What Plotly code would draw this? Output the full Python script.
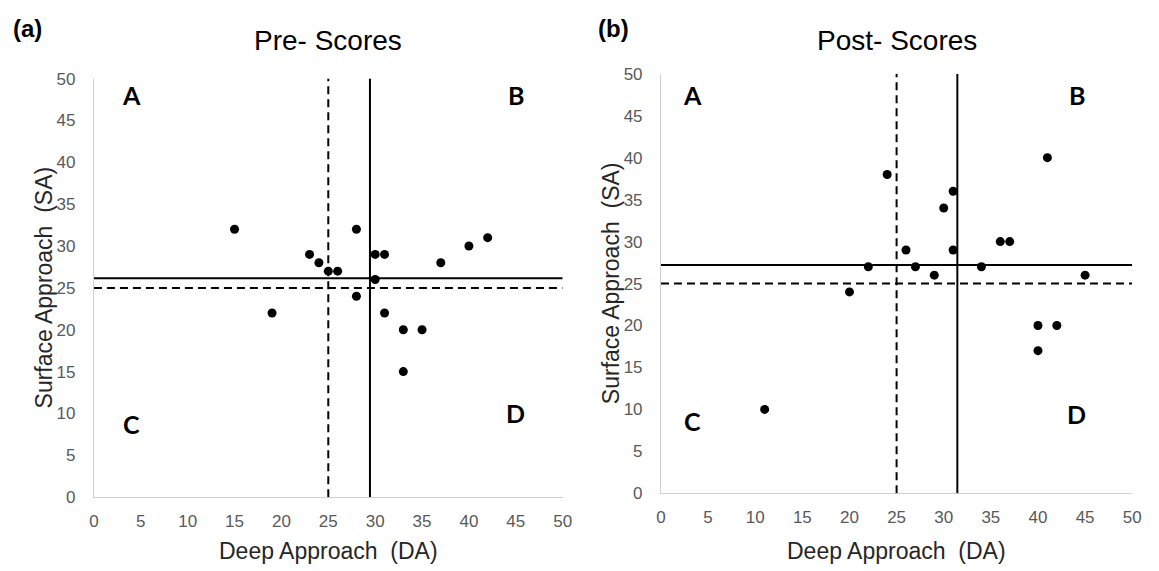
import numpy as np
import plotly.graph_objects as go

# ---------------- data ----------------
pre_da = [15, 28, 23, 24, 25, 26, 30, 31, 30, 37, 40, 42, 28, 19, 31, 33, 35, 33]
pre_sa = [32, 32, 29, 28, 27, 27, 29, 29, 26, 28, 30, 31, 24, 22, 22, 20, 20, 15]

post_da = [24, 31, 30, 41, 26, 31, 36, 37, 22, 27, 34, 29, 45, 20, 40, 42, 40, 11]
post_sa = [38, 36, 34, 40, 29, 29, 30, 30, 27, 27, 27, 26, 26, 24, 20, 20, 17, 10]

cutoff_da = 25          # dashed reference lines
cutoff_sa = 25
axis_min, axis_max = 0, 50
tick_vals = list(range(0, 51, 5))

panel_titles = ["Pre- Scores", "Post- Scores"]
panel_tags = ["(a)", "(b)"]
x_title = "Deep Approach\u00a0 (DA)"
y_title = "Surface Approach\u00a0 (SA)"
quadrants = ["A", "B", "C", "D"]

W, H = 1159, 571
# plot-area pixel boxes (left, right, top, bottom)
boxes = [(90, 564.5, 72, 505), (664, 1141, 67, 501)]

fig = go.Figure()
shapes = []
annotations = []

tick_font = dict(family="Liberation Sans, Arial", size=17, color="#595959")
title_font = dict(family="Liberation Sans, Arial", size=23, color="#262626")

datasets = [(pre_da, pre_sa), (post_da, post_sa)]
quad_pos = [
    [(4.0, 48.0), (45.0, 48.0), (4.0, 8.8), (45.0, 10.0)],
    [(3.3, 47.5), (44.1, 47.5), (3.3, 8.6), (44.1, 9.5)],
]

for i, ((da, sa), (l, r, t, b)) in enumerate(zip(datasets, boxes)):
    xa = "x" if i == 0 else "x2"
    ya = "y" if i == 0 else "y2"
    fig.add_trace(go.Scatter(
        x=da, y=sa, mode="markers", xaxis=xa, yaxis=ya,
        marker=dict(color="black", size=9, line=dict(width=0)),
        showlegend=False, hoverinfo="x+y"))

    mean_da = float(np.mean(da))
    mean_sa = float(np.mean(sa))
    # mean lines (solid)
    shapes.append(dict(type="line", xref=xa, yref=ya, x0=mean_da, x1=mean_da,
                       y0=axis_min, y1=axis_max, line=dict(color="black", width=2)))
    shapes.append(dict(type="line", xref=xa, yref=ya, x0=axis_min, x1=axis_max,
                       y0=mean_sa, y1=mean_sa, line=dict(color="black", width=2)))
    # cutoff lines (dashed)
    shapes.append(dict(type="line", xref=xa, yref=ya, x0=cutoff_da, x1=cutoff_da,
                       y0=axis_min, y1=axis_max,
                       line=dict(color="black", width=2, dash="8px,5px")))
    shapes.append(dict(type="line", xref=xa, yref=ya, x0=axis_min, x1=axis_max,
                       y0=cutoff_sa, y1=cutoff_sa,
                       line=dict(color="black", width=2, dash="8px,5px")))

    axis_common = dict(range=[axis_min, axis_max], tickvals=tick_vals,
                       showgrid=False, zeroline=False, showline=True,
                       linecolor="#d0d0d0", linewidth=1, ticks="",
                       tickfont=tick_font, fixedrange=True)
    xdom = [l / W, r / W]
    ydom = [1 - b / H, 1 - t / H]
    fig.update_layout(**{
        ("xaxis" if i == 0 else "xaxis2"): dict(domain=xdom, anchor=ya,
                                                 ticklabelstandoff=8, **axis_common),
        ("yaxis" if i == 0 else "yaxis2"): dict(domain=ydom, anchor=xa,
                                                 ticklabelstandoff=14, **axis_common),
    })

    for q, (qx, qy) in zip(quadrants, quad_pos[i]):
        annotations.append(dict(text=f"<b>{q}</b>", x=qx, y=qy, xref=xa, yref=ya,
                                showarrow=False, xanchor="center", yanchor="middle",
                                font=dict(family="Lato, Open Sans", size=25, color="black")))

    cx = (l + r) / 2
    # panel title
    annotations.append(dict(text=panel_titles[i], x=cx / W, y=1 - 33 / H,
                            xref="paper", yref="paper", showarrow=False,
                            xanchor="center", yanchor="middle",
                            font=dict(family="Liberation Sans, Arial", size=28, color="black")))
    # panel tag
    annotations.append(dict(text=f"<b>{panel_tags[i]}</b>",
                            x=(6 if i == 0 else 598) / W, y=1 - 20 / H,
                            xref="paper", yref="paper", showarrow=False,
                            xanchor="left", yanchor="middle",
                            font=dict(family="Liberation Sans, Arial", size=24, color="black")))
    # axis titles
    annotations.append(dict(text=x_title, x=cx / W, y=1 - 561 / H,
                            xref="paper", yref="paper", showarrow=False,
                            xanchor="center", yanchor="middle", font=title_font))
    annotations.append(dict(text=y_title, x=(l - 51) / W, y=1 - ((t + b) / 2) / H,
                            xref="paper", yref="paper", showarrow=False, textangle=-90,
                            xanchor="center", yanchor="middle", font=title_font))

fig.update_layout(width=W, height=H, margin=dict(l=0, r=0, t=0, b=0),
                  paper_bgcolor="white", plot_bgcolor="white",
                  shapes=shapes, annotations=annotations, showlegend=False)

fig.write_html("out.html")
